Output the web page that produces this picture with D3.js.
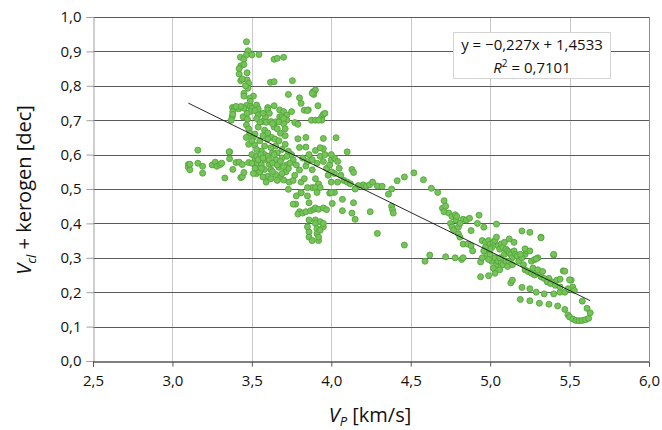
<!DOCTYPE html>
<html>
<head>
<meta charset="utf-8">
<script src="https://cdn.jsdelivr.net/npm/d3@7"></script>
<style>
  body { margin: 0; background: #fff; }
  svg { display: block; font-family: "Open Sans", "Noto Sans", sans-serif; }
</style>
</head>
<body>
<div id="chart"></div>
<script>
const xTicks = [2.5, 3.0, 3.5, 4.0, 4.5, 5.0, 5.5, 6.0];
const yTicks = [0, 0.1, 0.2, 0.3, 0.4, 0.5, 0.6, 0.7, 0.8, 0.9, 1.0];
const trendSlope = -0.227;
const trendIntercept = 1.4533;
const trendRange = [3.1, 5.63];
const trendLabel = "y = \u22120,227x + 1,4533";
const r2Label = "0,7101";

// [Vp, Vcl + kerogen]
const lowLeft = [
  [3.10,0.571],[3.10,0.563],[3.11,0.556],[3.11,0.572],[3.16,0.613],[3.16,0.575],[3.19,0.546],
  [3.19,0.566],[3.25,0.570],[3.27,0.578],[3.28,0.566],[3.30,0.571],[3.31,0.575],[3.33,0.532],
  [3.36,0.608],[3.36,0.588],[3.38,0.557],[3.40,0.577],[3.42,0.578],[3.43,0.533],[3.44,0.536],
  [3.45,0.548],[3.44,0.571]
];
const column = [
  [3.466,0.928],[3.476,0.902],[3.428,0.883],[3.45,0.878],[3.466,0.890],[3.50,0.890],[3.545,0.891],
  [3.43,0.858],[3.42,0.850],[3.45,0.862],[3.42,0.834],[3.47,0.838],[3.43,0.815],[3.47,0.817],
  [3.48,0.807],[3.475,0.793],[3.45,0.778],[3.45,0.770],[3.51,0.770],[3.487,0.764],[3.49,0.755],
  [3.46,0.800],[3.44,0.820]
];
const upperScatter = [
  [3.64,0.877],[3.66,0.880],[3.70,0.883],[3.617,0.810],[3.64,0.812],[3.755,0.815],[3.73,0.775],
  [3.80,0.765],[3.885,0.783],[3.90,0.788],[3.89,0.775],[3.88,0.778],[3.81,0.749],[3.916,0.742],
  [3.83,0.729],[3.855,0.730],[3.94,0.71],[3.95,0.717],[3.94,0.70],[3.875,0.70],[3.90,0.70],
  [3.92,0.70],[3.96,0.72],[3.77,0.693],[3.79,0.688],[3.85,0.728]
];
const upperCluster = [
  [3.378,0.737],[3.39,0.735],[3.38,0.725],[3.376,0.71],[3.38,0.717],[3.417,0.733],[3.466,0.743],
  [3.49,0.74],[3.50,0.735],[3.53,0.744],[3.54,0.733],[3.445,0.71],[3.49,0.725],[3.52,0.728],
  [3.472,0.703],[3.54,0.715],[3.60,0.737],[3.60,0.73],[3.61,0.72],[3.64,0.742],[3.675,0.73],
  [3.70,0.725],[3.72,0.715],[3.75,0.725],[3.585,0.708],[3.567,0.696],[3.59,0.694],[3.62,0.696],
  [3.675,0.71],[3.69,0.71],[3.65,0.695],[3.72,0.70],[3.70,0.69],[3.466,0.686],[3.48,0.675],
  [3.487,0.662],[3.51,0.65],[3.54,0.68],[3.58,0.671],[3.60,0.663],[3.64,0.68],[3.66,0.675],
  [3.68,0.662],[3.71,0.675],[3.625,0.65],[3.71,0.655],[3.645,0.645],[3.79,0.646],[3.80,0.621],
  [3.84,0.65],[3.95,0.647],[4.03,0.649],[3.465,0.65],[3.518,0.628],[3.58,0.625],[3.71,0.63],
  [3.84,0.622],[3.90,0.612],[3.95,0.617],[3.357,0.608],[3.50,0.60],[3.52,0.66],[3.55,0.64],
  [3.57,0.655],[3.60,0.645],[3.62,0.62],[3.65,0.625],[3.67,0.64],[3.69,0.615],[3.56,0.61],
  [3.53,0.615],[3.58,0.60],[3.63,0.605],[3.66,0.605],[3.73,0.61],[3.75,0.60],[3.48,0.63],
  [3.50,0.64],[3.55,0.695],[3.57,0.72],[3.53,0.705],[3.63,0.69],[3.67,0.695],[3.70,0.705],
  [3.47,0.72],[3.45,0.735],[3.43,0.74],[3.40,0.74],[3.37,0.70]
];
const midCluster = [
  [3.48,0.577],[3.50,0.575],[3.52,0.589],[3.535,0.575],[3.52,0.56],[3.53,0.545],[3.56,0.57],
  [3.58,0.557],[3.58,0.585],[3.61,0.572],[3.62,0.556],[3.60,0.537],[3.62,0.53],[3.65,0.542],
  [3.65,0.585],[3.67,0.563],[3.68,0.535],[3.70,0.526],[3.715,0.55],[3.72,0.57],[3.73,0.56],
  [3.735,0.52],[3.73,0.499],[3.76,0.525],[3.77,0.54],[3.80,0.555],[3.81,0.52],[3.83,0.53],
  [3.84,0.567],[3.85,0.58],[3.88,0.556],[3.90,0.53],[3.92,0.515],[3.53,0.595],[3.555,0.60],
  [3.60,0.595],[3.64,0.60],[3.69,0.59],[3.72,0.595],[3.76,0.585],[3.78,0.57],[3.82,0.59],
  [3.86,0.60],[3.88,0.585],[3.91,0.575],[3.93,0.595],[3.95,0.58],[3.97,0.56],[3.99,0.57],
  [4.00,0.585],[4.02,0.59],[4.04,0.58],[4.05,0.56],[4.02,0.545],[4.00,0.55],[3.98,0.54],
  [4.06,0.54],[4.08,0.525],[4.04,0.52],[4.00,0.52],[4.10,0.52],[4.12,0.515],[4.10,0.608],
  [4.13,0.557],[4.14,0.548],[3.96,0.60],[3.93,0.62],[4.00,0.60],[3.55,0.55],[3.57,0.535],
  [3.63,0.55],[3.66,0.525],[3.59,0.52],[3.54,0.585],[3.57,0.59],[3.61,0.585],[3.63,0.575],
  [3.66,0.57],[3.68,0.58],[3.70,0.565],[3.74,0.575],[3.51,0.545],[3.56,0.56],[3.69,0.545]
];
const lowMid = [
  [3.88,0.504],[3.90,0.504],[3.93,0.504],[3.85,0.504],[3.776,0.456],[3.81,0.49],[3.85,0.48],
  [3.91,0.49],[3.99,0.488],[4.02,0.49],[3.80,0.434],[3.79,0.427],[3.82,0.43],[3.84,0.434],
  [3.87,0.437],[3.89,0.441],[3.90,0.445],[3.92,0.441],[3.86,0.46],[3.95,0.445],[3.86,0.41],
  [3.90,0.41],[3.93,0.405],[3.85,0.39],[3.86,0.375],[3.90,0.40],[3.91,0.385],[3.91,0.37],
  [3.95,0.39],[3.95,0.40],[3.86,0.36],[3.88,0.35],[3.92,0.35],[3.92,0.36],[3.93,0.38],
  [4.07,0.437],[4.006,0.458],[4.07,0.47],[4.14,0.46],[4.15,0.412],[4.13,0.43],[4.245,0.434],
  [3.97,0.44],[4.0,0.49],[3.78,0.48],[3.81,0.489],[3.76,0.456]
];
const midRight = [
  [4.20,0.512],[4.22,0.508],[4.24,0.512],[4.26,0.52],[4.29,0.509],[4.32,0.508],[4.415,0.524],
  [4.46,0.535],[4.52,0.547],[4.58,0.527],[4.36,0.485],[4.38,0.50],[4.38,0.45],[4.385,0.44],
  [4.39,0.43],[4.29,0.371],[4.46,0.337],[4.17,0.51],[4.15,0.50]
];
const rightUpper = [
  [4.63,0.502],[4.67,0.49],[4.71,0.466],[4.70,0.444],[4.71,0.434],[4.72,0.45],[4.74,0.43],
  [4.76,0.42],[4.78,0.425],[4.785,0.41],[4.75,0.40],[4.76,0.39],[4.77,0.38],[4.80,0.389],
  [4.83,0.412],[4.85,0.41],[4.87,0.415],[4.93,0.424],[4.92,0.40],[4.88,0.379],[4.80,0.37],
  [4.81,0.36],[4.83,0.34],[4.86,0.34],[4.88,0.335],[4.89,0.32],[4.62,0.308],[4.59,0.29],
  [4.72,0.303],[4.78,0.30],[4.82,0.295],[4.83,0.30],[4.94,0.288],[4.95,0.30],[4.94,0.245],
  [4.99,0.248],[4.96,0.389],[4.79,0.42],[4.81,0.40]
];
const rightCluster = [
  [4.95,0.35],[4.97,0.345],[4.99,0.35],[5.00,0.34],[5.01,0.33],[5.02,0.345],[5.03,0.35],
  [5.04,0.36],[5.05,0.335],[5.06,0.325],[5.07,0.34],[5.08,0.33],[5.09,0.31],[5.10,0.325],
  [5.11,0.32],[5.12,0.315],[5.13,0.31],[5.14,0.30],[5.15,0.32],[5.16,0.31],[5.17,0.305],
  [5.18,0.29],[4.98,0.31],[5.00,0.31],[5.01,0.29],[5.03,0.30],[5.04,0.28],[5.05,0.29],
  [5.06,0.30],[5.07,0.285],[5.08,0.28],[5.10,0.29],[5.11,0.275],[5.12,0.29],[5.14,0.28],
  [5.00,0.325],[4.97,0.33],[4.96,0.32],[5.02,0.27],[5.03,0.255],[5.06,0.265],[5.04,0.398],
  [5.09,0.345],[5.12,0.355],[5.15,0.345],[4.99,0.295],[5.13,0.227],[5.14,0.235]
];
const tail = [
  [5.20,0.378],[5.25,0.374],[5.32,0.36],[5.20,0.214],[5.25,0.21],[5.19,0.179],[5.25,0.175],
  [5.31,0.168],[5.37,0.165],[5.425,0.16],[5.47,0.15],[5.49,0.134],[5.50,0.128],[5.52,0.122],
  [5.54,0.118],[5.56,0.117],[5.58,0.118],[5.60,0.12],[5.62,0.124],[5.63,0.14],[5.61,0.153],
  [5.58,0.174],[5.51,0.235],[5.52,0.215],[5.53,0.205],[5.40,0.308],[5.46,0.262],[5.37,0.24],
  [5.39,0.23],[5.42,0.235],[5.29,0.20],[5.34,0.195],[5.40,0.195],[5.44,0.20],[5.47,0.20],
  [5.26,0.29],[5.28,0.295],[5.30,0.30],[5.22,0.31],[5.23,0.32],[5.20,0.30],[5.19,0.31],
  [5.21,0.28],[5.22,0.265],[5.24,0.26],[5.26,0.255],[5.28,0.25],[5.30,0.255],[5.32,0.245],
  [5.34,0.24],[5.36,0.23],[5.38,0.225],[5.41,0.22],[5.44,0.215],[5.49,0.21],[5.27,0.27],
  [5.30,0.265],[5.33,0.26],[5.22,0.326],[5.25,0.32],[5.29,0.297],[5.32,0.358],[5.40,0.31],
  [5.44,0.238],[5.47,0.261],[5.50,0.236]
];

const samples = [].concat(lowLeft, column, upperScatter, upperCluster, midCluster, lowMid, midRight, rightUpper, rightCluster, tail);

const width = 662, height = 430;
const svg = d3.select("#chart").append("svg")
  .attr("width", width)
  .attr("height", height);

const x = d3.scaleLinear().domain([2.5, 6.0]).range([93, 649]);
const y = d3.scaleLinear().domain([0, 1.0]).range([361, 17]);
const fmt = (d) => d3.format(".1f")(d).replace(".", ",");

// gridlines
svg.append("g")
  .selectAll("line")
  .data(xTicks.slice(1))
  .join("line")
  .attr("x1", (d) => Math.round(x(d)) + 0.5).attr("x2", (d) => Math.round(x(d)) + 0.5)
  .attr("y1", y(1.0)).attr("y2", y(0))
  .attr("stroke", (d) => d === 6.0 ? "#8c8c8c" : "#c8c8c8")
  .attr("stroke-width", 1);

svg.append("g")
  .selectAll("line")
  .data(yTicks.slice(1))
  .join("line")
  .attr("x1", x(2.5)).attr("x2", x(6.0))
  .attr("y1", (d) => Math.round(y(d)) + 0.5).attr("y2", (d) => Math.round(y(d)) + 0.5)
  .attr("stroke", "#5a5a5a")
  .attr("stroke-width", 1);

// y axis
const yAxis = svg.append("g")
  .attr("transform", `translate(${Math.round(x(2.5)) + 0.5},0)`)
  .call(d3.axisLeft(y).tickValues(yTicks).tickFormat(fmt).tickSize(7).tickPadding(5));
yAxis.select(".domain").attr("stroke", "#a0a0a0");
yAxis.selectAll(".tick line").attr("stroke", "#a0a0a0");
yAxis.selectAll(".tick text").attr("font-size", 15).attr("fill", "#111")
  .attr("font-family", "'Open Sans', sans-serif");

// x axis
const xAxis = svg.append("g")
  .attr("transform", `translate(0,${Math.round(y(0)) + 0.5})`)
  .call(d3.axisBottom(x).tickValues(xTicks).tickFormat(fmt).tickSize(5).tickPadding(9));
xAxis.select(".domain").attr("stroke", "#000");
xAxis.selectAll(".tick line").attr("stroke", "#555");
xAxis.selectAll(".tick text").attr("font-size", 15).attr("fill", "#111")
  .attr("font-family", "'Open Sans', sans-serif");

// points
svg.append("g")
  .selectAll("circle")
  .data(samples)
  .join("circle")
  .attr("cx", (d) => x(d[0]))
  .attr("cy", (d) => y(d[1]))
  .attr("r", 3)
  .attr("fill", "#76c35a")
  .attr("stroke", "#52a63a")
  .attr("stroke-width", 0.9);

// trendline
svg.append("line")
  .attr("x1", x(trendRange[0])).attr("y1", y(trendSlope * trendRange[0] + trendIntercept))
  .attr("x2", x(trendRange[1])).attr("y2", y(trendSlope * trendRange[1] + trendIntercept))
  .attr("stroke", "#111")
  .attr("stroke-width", 0.9);

// equation box
const box = svg.append("g");
box.append("rect")
  .attr("x", 453.5).attr("y", 32.5).attr("width", 157).attr("height", 46)
  .attr("fill", "#fff").attr("stroke", "#d4d4d4");
box.append("text")
  .attr("x", 532).attr("y", 50)
  .attr("text-anchor", "middle").attr("font-size", 15).attr("fill", "#111")
  .text(trendLabel);
const r2 = box.append("text")
  .attr("x", 532).attr("y", 73)
  .attr("text-anchor", "middle").attr("font-size", 15).attr("fill", "#111");
r2.append("tspan").attr("font-style", "italic").text("R");
r2.append("tspan").attr("font-size", 10).attr("dy", -6).text("2");
r2.append("tspan").attr("dy", 6).text(" = " + r2Label);

// axis titles
const xt = svg.append("text")
  .attr("x", 370).attr("y", 422)
  .attr("text-anchor", "middle").attr("font-size", 20).attr("fill", "#111");
xt.append("tspan").attr("font-style", "italic").text("V");
xt.append("tspan").attr("font-style", "italic").attr("font-size", 13).attr("dy", 4).text("P");
xt.append("tspan").attr("dy", -4).text(" [km/s]");

const yt = svg.append("text")
  .attr("transform", "translate(31,190) rotate(-90)")
  .attr("text-anchor", "middle").attr("font-size", 20).attr("fill", "#111");
yt.append("tspan").attr("font-style", "italic").text("V");
yt.append("tspan").attr("font-style", "italic").attr("font-size", 13).attr("dy", 5).text("cl");
yt.append("tspan").attr("dy", -5).text(" + kerogen [dec]");
</script>
</body>
</html>
